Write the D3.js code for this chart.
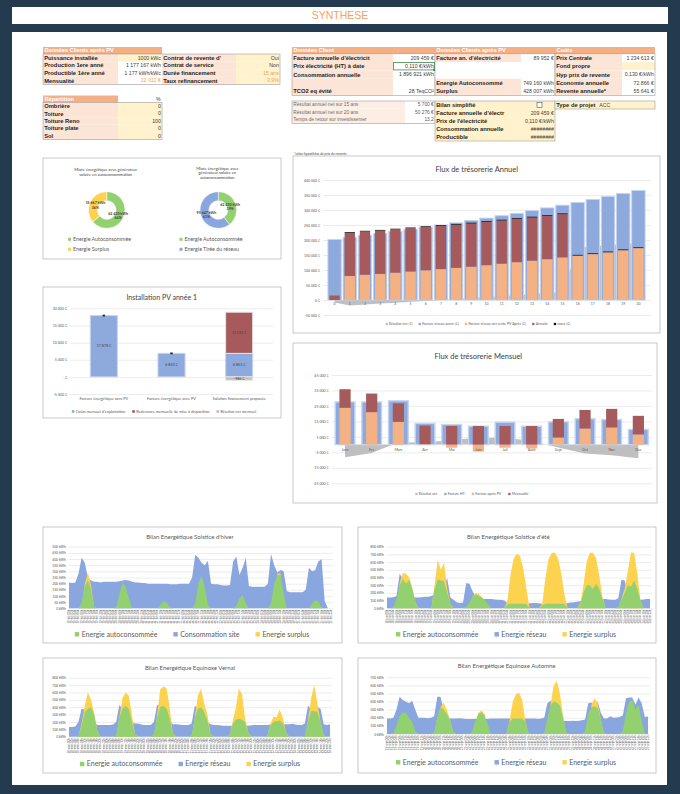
<!DOCTYPE html>
<html>
<head>
<meta charset="utf-8">
<script src="https://cdn.jsdelivr.net/npm/d3@7"></script>
<style>
  body { margin: 0; background: #243a4e; }
  svg { display: block; }
</style>
</head>
<body>
<svg id="page"></svg>
<script>
// ---------- data : tables ----------
var clientPvLabels = ["Puissance installée", "Production 1ere anné", "Productible 1ère anné", "Mensualité"];
var clientPvValues = ["1000 kWc", "1 177 167 kWh", "1 177 kWh/kWc", "12 011 €"];
var contratLabels = ["Contrat de revente d'", "Contrat de service", "Durée financement", "Taux refinancement"];
var contratValues = ["Oui", "Non", "15 ans", "3,9%"];
var repartitionLabels = ["Ombrière", "Toiture", "Toiture Reno", "Toiture plate", "Sol"];
var repartitionValues = ["0", "0", "100", "0", "0"];
var clientLabels = ["Facture annuelle d'électricit", "Prix électricité (HT) à date", "Consommation annuelle", "", "TCO2 eq évité"];
var clientValues = ["209 459 €", "0,110 €/kWh", "1 896 921 kWh", "", "28 TeqCO²"];
var apresPvLabels = ["Facture an. d'électricité", "", "", "Energie Autoconsommé", "Surplus"];
var apresPvValues = ["89 952 €", "", "", "749 160 kWh", "428 007 kWh"];
var coutsLabels = ["Prix Centrale", "Fond propre", "Hyp prix de revente", "Economie annuelle", "Revente annuelle*"];
var coutsValues = ["1 234 613 €", "", "0,130 €/kWh", "72 866 €", "55 641 €"];
var resultatLabels = ["Résultat annuel net sur 15 ans", "Résultat annuel net sur 20 ans", "Temps de retour sur investissemer"];
var resultatValues = ["5 700 €", "50 276 €", "13,2"];
var bilanLabels = ["Bilan simplifié", "Facture annuelle d'électr", "Prix de l'électricité", "Consommation annuelle", "Productible"];
var bilanValues = ["", "209 459 €", "0,110 €/kWh", "########", "########"];
var typeProjet = ["Type de projet", "ACC"];

// ---------- data : donuts ----------
var mixteSurplusLabels = ["Energie Autoconsommée", "Energie Surplus"];
var mixteSurplusValues = [62430, 35667];
var mixteReseauLabels = ["Energie Autoconsommée", "Energie Tirée du réseau"];
var mixteReseauValues = [62430, 95647];

// ---------- data : installation PV année 1 ----------
var pvCategories = ["Facture énergétique sans PV", "Facture énergétique avec PV", "Solution financement proposée"];
var coutsMensuels = [17878, 6853, 6853];
var redevanceMensuelle = [0, 0, 12011];
var resultatNetMensuel = [null, null, -986];
var factureMarqueur = [17878, 6853, null];

// ---------- data : flux annuel ----------
var annees = ["0", "1", "2", "3", "4", "5", "6", "7", "8", "9", "10", "11", "12", "13", "14", "15", "16", "17", "18", "19", "20"];
var factureAvant = [202000, 209000, 216000, 222000, 229000, 236000, 243000, 250000, 257000, 265000, 273000, 281000, 289000, 298000, 307000, 316000, 325000, 335000, 345000, 355000, 365000];
var factureApres = [0, 80000, 84000, 87000, 91000, 95000, 99000, 103000, 107000, 111000, 116000, 121000, 126000, 131000, 136000, 142000, 148000, 153000, 159000, 166000, 173000];
var annuite = [15000, 144132, 144132, 144132, 144132, 144132, 144132, 144132, 144132, 144132, 144132, 144132, 144132, 144132, 144132, 144132, 0, 0, 0, 0, 0];
var taxes = [0, 2500, 2500, 2500, 2500, 2500, 2500, 2500, 2500, 2500, 2500, 2500, 2500, 2500, 2500, 2500, 2500, 2500, 2500, 2500, 2500];
var resultatNetAnnuel = [-8000, -18000, -15000, -12000, -9000, -6000, -3000, 0, 3000, 7000, 10000, 13000, 16000, 20000, 24000, 27000, 174000, 179000, 183000, 186000, 190000];

// ---------- data : flux mensuel ----------
var mois = ["Janv", "Fev", "Mars", "Avr", "Mai", "Juin", "Juil", "Août", "Sept", "Oct", "Nov", "Dec"];
var factureHT = [27600, 27600, 28300, 13700, 13000, 11900, 14500, 11900, 14700, 16700, 16200, 9800];
var factureApresPV = [23800, 21000, 14700, 300, -2000, -4500, -2000, -2500, 4600, 10400, 11100, 6600];
var mensualite = [12011, 12011, 12011, 12011, 12011, 12011, 12011, 12011, 12011, 12011, 12011, 12011];
var resultatNetMois = [-8200, -5400, 1600, 1400, 3000, 4400, 4500, 2400, -1900, -5700, -6900, -8800];

// ---------- data : bilans énergétiques (pas de 2 h, 7 jours) ----------
var heures = ["00h", "02h", "04h", "06h", "08h", "10h", "12h", "14h", "16h", "18h", "20h", "22h"];
var joursHiver = ["19-déc", "20-déc", "21-déc", "22-déc", "23-déc", "24-déc", "25-déc"];
var joursEte = ["18-juin", "19-juin", "20-juin", "21-juin", "22-juin", "23-juin", "24-juin"];
var joursVernal = ["18-mars", "19-mars", "20-mars", "21-mars", "22-mars", "23-mars", "24-mars"];
var joursAutomne = ["19-sept", "20-sept", "21-sept", "22-sept", "23-sept", "24-sept", "25-sept"];

var hiverConso = [210,205,210,280,410,370,245,225,215,215,210,215, 215,215,215,215,220,225,230,225,215,210,210,205,
  205,200,200,200,200,200,200,200,195,195,195,200, 200,200,200,250,435,410,370,350,385,200,195,195,
  190,185,185,190,380,420,270,330,410,180,175,175, 175,175,175,200,440,350,290,310,300,140,130,130,
  130,130,130,150,330,300,310,380,400,60,0,0];
var hiverAuto = [0,0,0,0,40,180,230,150,10,0,0,0, 0,0,0,10,120,210,170,80,0,0,0,0,
  0,0,0,0,0,30,60,45,10,0,0,0, 0,0,0,0,40,200,265,170,30,0,0,0,
  0,0,0,0,0,20,80,110,40,0,0,0, 0,0,0,0,40,200,270,270,120,0,0,0,
  0,0,0,0,0,40,65,55,10,0,0,0];
var hiverSurplus = [0,0,0,0,0,200,290,180,0,0,0,0, 0,0,0,0,0,0,0,0,0,0,0,0,
  0,0,0,0,0,0,0,0,0,0,0,0, 0,0,0,0,0,0,0,0,0,0,0,0,
  0,0,0,0,0,0,0,0,0,0,0,0, 0,0,0,0,0,0,280,285,0,0,0,0,
  0,0,0,0,0,0,0,0,0,0,0,0];

var eteReseau = [140,140,145,160,450,380,300,200,150,140,140,145, 150,150,160,180,200,220,300,390,140,110,80,70,
  75,330,320,220,150,130,120,120,120,120,115,110, 110,100,70,60,60,60,60,60,60,65,70,70,
  65,60,60,60,60,60,60,60,60,70,75,80, 85,90,120,200,250,200,150,120,120,120,115,110,
  110,130,370,360,200,100,90,100,110,115,120,120];
var eteAuto = [0,0,20,120,300,380,320,370,250,80,0,0, 0,0,10,250,370,360,350,200,60,0,0,0,
  0,20,80,150,180,160,140,100,50,0,0,0, 0,0,50,60,60,60,60,60,55,0,0,0,
  0,40,60,60,60,60,60,60,60,0,0,0, 0,40,200,300,300,250,320,250,120,0,0,0,
  0,20,120,200,300,280,360,250,100,0,0,0];
var eteSurplus = [0,0,0,0,330,460,450,400,260,80,0,0, 0,0,0,300,630,500,590,250,60,0,0,0,
  0,0,0,150,200,190,140,0,0,0,0,0, 0,0,100,450,650,710,680,520,250,0,0,0,
  0,60,400,640,720,720,650,450,180,0,0,0, 0,60,300,600,720,720,650,420,150,0,0,0,
  0,0,130,250,480,720,720,450,100,0,0,0];

var vernalReseau = [130,130,140,200,380,370,330,300,200,160,160,160, 160,160,165,200,430,380,330,300,200,180,180,165,
  160,160,160,200,430,420,350,330,220,170,170,165, 160,160,160,180,420,380,300,250,200,170,160,160,
  155,150,150,150,150,150,150,150,150,150,155,160, 160,160,160,160,165,165,170,170,170,170,170,175,
  165,160,160,180,420,380,330,400,380,170,160,170];
var vernalAuto = [0,0,0,10,150,330,380,400,300,80,0,0, 0,0,0,20,250,380,420,380,200,30,0,0,
  0,0,0,40,250,400,420,380,250,50,0,0, 0,0,0,30,250,380,400,330,220,40,0,0,
  0,0,0,30,160,230,240,230,200,60,0,0, 0,0,0,10,150,200,210,220,180,60,0,0,
  0,0,0,20,200,350,350,330,200,20,0,0];
var vernalSurplus = [0,0,0,0,180,420,600,500,320,80,0,0, 0,0,0,0,260,520,600,560,300,30,0,0,
  0,0,0,0,280,640,680,660,400,50,0,0, 0,0,0,0,260,560,650,450,300,40,0,0,
  0,0,0,0,200,380,650,580,250,60,0,0, 0,0,0,0,170,270,260,370,260,60,0,0,
  0,0,0,0,220,520,700,450,200,20,0,0];

var automneReseau = [190,190,200,300,460,420,400,380,410,300,200,200, 200,195,200,220,460,460,300,200,190,190,190,195,
  190,185,185,185,185,185,185,185,185,190,190,190, 190,190,190,190,190,190,190,190,190,190,190,190,
  185,190,200,380,410,350,300,250,160,160,160,165, 160,165,170,180,380,390,340,400,260,190,190,220,
  200,205,210,230,440,450,450,360,450,380,210,215];
var automneAuto = [0,0,10,100,220,270,260,200,150,30,0,0, 0,0,0,20,200,330,300,250,180,30,0,0,
  0,0,0,20,150,240,270,230,120,10,0,0, 0,0,0,150,190,190,190,190,150,20,0,0,
  0,0,10,200,350,400,390,350,200,30,0,0, 0,0,0,30,250,330,340,320,180,20,0,0,
  0,0,0,40,250,400,420,300,360,150,10,0];
var automneSurplus = [0,0,0,0,0,0,0,0,0,0,0,0, 0,0,0,0,200,330,390,300,180,30,0,0,
  0,0,0,0,0,260,290,250,0,0,0,0, 0,0,0,170,400,490,510,420,160,0,0,0,
  0,0,0,0,360,600,650,500,220,0,0,0, 0,0,0,0,0,360,440,380,180,0,0,0,
  0,0,0,0,0,0,0,0,0,0,0,0];

// ---------- palette ----------
var NAVY = "#243a4e", PEACH = "#fce4d6", YELLOW = "#fff2cc", ORANGE_HEAD = "#f4b084", ORANGE_TXT = "#f0a060";
var BLUE = "#8eaadc", BLUE_GLOW = "#c6d4ef", ORANGE = "#f4b183", RED = "#a65a5c", GREY = "#bfbfbf";
var E_BLUE = "#8aa6de", E_GREEN = "#92d070", E_YELLOW = "#fdd24e";
var TABLE_FONT = "'Liberation Sans', Arial, sans-serif";

var loc = d3.formatLocale({decimal: ",", thousands: "\u00a0", grouping: [3], currency: ["", " €"], minus: "-"});
var fmtInt = loc.format(",.0f");
function euro(d) { return fmtInt(d) + " €"; }

var page = d3.select("#page").attr("width", 680).attr("height", 794)
             .style("font-family", "Lato, 'Liberation Sans', sans-serif");

// frame and header
page.append("rect").attr("width", 680).attr("height", 794).attr("fill", NAVY);
page.append("rect").attr("x", 12).attr("y", 7).attr("width", 656).attr("height", 17).attr("fill", "#fff");
page.append("text").attr("x", 340).attr("y", 15.8).attr("dy", "0.35em").attr("text-anchor", "middle")
    .attr("font-size", 10.5).attr("fill", "#f6a15f").attr("font-family", TABLE_FONT).text("SYNTHESE");
page.append("rect").attr("x", 12).attr("y", 32).attr("width", 655).attr("height", 753).attr("fill", "#fff");

// ---------- table helpers ----------
var clipCount = 0;
function headerCell(x, y, w, h, txt) {
  page.append("rect").attr("x", x).attr("y", y).attr("width", w).attr("height", h).attr("fill", ORANGE_HEAD);
  page.append("text").attr("x", x + 1.5).attr("y", y + h / 2).attr("dy", "0.35em")
      .attr("font-size", 5.6).attr("font-weight", "bold").attr("fill", "#fff")
      .attr("font-family", TABLE_FONT).text(txt);
}
function table(x, y, rowH, n, cols) {
  var cx = x;
  cols.forEach(function(c) {
    var id = "clip" + (clipCount++);
    page.append("clipPath").attr("id", id).append("rect")
        .attr("x", cx).attr("y", y).attr("width", c.w - 0.5).attr("height", n * rowH);
    for (var i = 0; i < n; i++) {
      var fill = typeof c.fill === "function" ? c.fill(i) : c.fill;
      page.append("rect").attr("x", cx).attr("y", y + i * rowH).attr("width", c.w).attr("height", rowH).attr("fill", fill);
      var t = c.text[i];
      if (t === "" || t == null) continue;
      var anchor = c.anchor || "start";
      page.append("text")
          .attr("clip-path", "url(#" + id + ")")
          .attr("x", anchor === "end" ? cx + c.w - 1.2 : cx + 1.2)
          .attr("y", y + i * rowH + rowH / 2).attr("dy", "0.35em")
          .attr("text-anchor", anchor)
          .attr("font-size", c.size || (c.bold ? 5.8 : 5.2))
          .attr("font-weight", c.bold ? "bold" : null)
          .attr("font-family", TABLE_FONT)
          .attr("fill", c.color ? (typeof c.color === "function" ? c.color(i) : c.color) : "#1f1f1f")
          .text(t);
    }
    cx += c.w;
  });
  page.append("rect").attr("x", x).attr("y", y).attr("width", cx - x).attr("height", n * rowH)
      .attr("fill", "none").attr("stroke", "#8c8c8c").attr("stroke-width", 0.5);
}

// left tables
headerCell(43, 47, 119, 7, "Données Clients après PV");
table(43, 54, 7.6, 4, [
  {w: 75, fill: PEACH, text: clientPvLabels, bold: true},
  {w: 44, fill: function(i) { return i === 0 ? YELLOW : "#fff"; }, text: clientPvValues, anchor: "end",
   color: function(i) { return i === 3 ? ORANGE_TXT : "#404040"; }},
  {w: 74, fill: PEACH, text: contratLabels, bold: true},
  {w: 44, fill: YELLOW, text: contratValues, anchor: "end",
   color: function(i) { return i >= 2 ? ORANGE_TXT : "#404040"; }}
]);
headerCell(43, 95.5, 75, 7, "Répartition");
page.append("text").attr("x", 160.5).attr("y", 99).attr("dy", "0.35em").attr("text-anchor", "end")
    .attr("font-size", 5.2).attr("font-family", TABLE_FONT).attr("fill", "#404040").text("%");
table(43, 102.5, 7.4, 5, [
  {w: 75, fill: PEACH, text: repartitionLabels, bold: true},
  {w: 44, fill: YELLOW, text: repartitionValues, anchor: "end", color: "#404040"}
]);

// middle / right tables
headerCell(292, 47, 143, 6.8, "Données Client");
headerCell(435, 47, 120, 6.8, "Données Clients après PV");
headerCell(555, 47, 100, 6.8, "Coûts");
table(292, 53.8, 8.3, 5, [
  {w: 101, fill: PEACH, text: clientLabels, bold: true},
  {w: 42, fill: "#fff", text: clientValues, anchor: "end", color: "#404040"}
]);
page.append("rect").attr("x", 393.4).attr("y", 62.4).attr("width", 41.2).attr("height", 7.5)
    .attr("fill", "none").attr("stroke", "#3d8a4a").attr("stroke-width", 0.8);
page.append("rect").attr("x", 433.2).attr("y", 68.6).attr("width", 2.4).attr("height", 2.4).attr("fill", "#3d8a4a");
table(435, 53.8, 8.3, 5, [
  {w: 86, fill: function(i) { return i === 1 || i === 2 ? "#fff" : PEACH; }, text: apresPvLabels, bold: true},
  {w: 34, fill: "#fff", text: apresPvValues, anchor: "end", color: "#404040"}
]);
table(555, 53.8, 8.3, 5, [
  {w: 67, fill: PEACH, text: coutsLabels, bold: true},
  {w: 33, fill: function(i) { return i === 1 ? YELLOW : "#fff"; }, text: coutsValues, anchor: "end", color: "#404040"}
]);
table(292, 101, 7.5, 3, [
  {w: 113, fill: "#fdeee4", text: resultatLabels, size: 4.8, color: "#6b6b6b"},
  {w: 30, fill: "#fff", text: resultatValues, anchor: "end", size: 4.8, color: "#595959"}
]);
table(435, 101, 8, 5, [
  {w: 88, fill: YELLOW, text: bilanLabels, bold: true},
  {w: 32, fill: YELLOW, text: bilanValues, anchor: "end", color: "#404040"}
]);
page.append("rect").attr("x", 537).attr("y", 102.3).attr("width", 5).attr("height", 5)
    .attr("fill", "#fff").attr("stroke", "#333").attr("stroke-width", 0.5);
table(555, 101, 8, 1, [
  {w: 43, fill: YELLOW, text: [typeProjet[0]], bold: true},
  {w: 57, fill: YELLOW, text: [typeProjet[1]], color: "#404040"}
]);
page.append("text").attr("x", 294).attr("y", 154.5).attr("font-size", 3.6).attr("font-style", "italic")
    .attr("fill", "#404040").text("*selon hypothèse de prix de revente");

// ---------- chart helpers ----------
function panel(x, y, w, h) {
  page.append("rect").attr("x", x).attr("y", y).attr("width", w).attr("height", h)
      .attr("fill", "#fff").attr("stroke", "#a6a6a6").attr("stroke-width", 0.6);
}
function title(x, y, txt, size, color) {
  page.append("text").attr("x", x).attr("y", y).attr("dy", "0.35em").attr("text-anchor", "middle")
      .attr("font-size", size).attr("fill", color || "#404040").text(txt);
}
function yAxis(scale, x, x1, ticks, fmt, size) {
  var g = page.append("g").attr("transform", "translate(" + x + ",0)")
              .call(d3.axisLeft(scale).tickValues(ticks).tickSize(-(x1 - x)).tickPadding(3).tickFormat(fmt));
  g.attr("font-family", null).attr("font-size", null);
  g.select(".domain").remove();
  g.selectAll(".tick line").attr("stroke", "#d9d9d9").attr("stroke-width", 0.5);
  g.selectAll(".tick text").attr("font-size", size).attr("fill", "#595959");
  return g;
}
function legend(items, cx, y, size, box, gap) {
  var g = page.append("g");
  var xx = 0;
  items.forEach(function(it) {
    g.append("rect").attr("x", xx).attr("y", y - box / 2).attr("width", box).attr("height", box).attr("fill", it.color);
    var t = g.append("text").attr("x", xx + box + size * 0.35).attr("y", y).attr("dy", "0.35em")
             .attr("font-size", size).attr("fill", "#595959").text(it.label);
    xx += box + size * 0.35 + t.node().getComputedTextLength() + gap;
  });
  xx -= gap;
  g.attr("transform", "translate(" + (cx - xx / 2) + ",0)");
}

// ---------- donuts ----------
panel(43, 158, 238, 101);
function donut(cx, cy, values, labels, colors, titleLines, titleY, legX) {
  var total = d3.sum(values);
  var arcs = d3.pie().sort(null)(values);
  var arc = d3.arc().innerRadius(9.3).outerRadius(18.3);
  var lab = d3.arc().innerRadius(12.5).outerRadius(12.5);
  var g = page.append("g").attr("transform", "translate(" + cx + "," + cy + ")");
  g.selectAll("path").data(arcs).join("path").attr("d", arc)
   .attr("fill", function(d, i) { return colors[i]; }).attr("stroke", "#fff").attr("stroke-width", 0.5);
  arcs.forEach(function(a, i) {
    var c = lab.centroid(a);
    var t = g.append("text").attr("x", c[0]).attr("y", c[1]).attr("text-anchor", "middle")
             .attr("font-size", 3.6).attr("font-weight", "bold").attr("fill", "#404040");
    t.append("tspan").attr("x", c[0]).attr("dy", "-0.1em").text(fmtInt(values[i]) + " kWh");
    t.append("tspan").attr("x", c[0]).attr("dy", "1.15em").text(Math.round(values[i] / total * 100) + "%");
  });
  titleLines.forEach(function(l, i) { title(cx - 1, titleY + i * 4.7, l, 4.1, "#404040"); });
  labels.forEach(function(l, i) {
    page.append("rect").attr("x", legX).attr("y", 237.8 + i * 10).attr("width", 3).attr("height", 3).attr("fill", colors[i]);
    page.append("text").attr("x", legX + 5).attr("y", 239.3 + i * 10).attr("dy", "0.35em")
        .attr("font-size", 5.3).attr("fill", "#595959").text(l);
  });
}
donut(106.7, 210, mixteSurplusValues, mixteSurplusLabels, [E_GREEN, E_YELLOW],
      ["Mixte énergétique avec générateur", "solaire en autoconsommation"], 170, 68);
donut(218.3, 210, mixteReseauValues, mixteReseauLabels, [E_GREEN, E_BLUE],
      ["Mixte énergétique avec", "générateur solaire en", "autoconsommation"], 168.3, 179.5);

// ---------- Installation PV année 1 ----------
panel(43, 287, 238, 131);
title(161.7, 297.7, "Installation PV année 1", 7);
var xI = d3.scaleBand().domain(pvCategories).range([70, 273]);
var yI = d3.scaleLinear().domain([-5000, 20000]).range([394, 308.3]);
yAxis(yI, 70, 273, d3.range(-5000, 20001, 5000), function(d) { return d === 0 ? "- €" : euro(d); }, 3.6);
var bwI = xI.bandwidth() * 0.4;
pvCategories.forEach(function(c, i) {
  var x0 = xI(c) + xI.bandwidth() / 2 - bwI / 2;
  var segs = [[0, coutsMensuels[i], BLUE], [coutsMensuels[i], coutsMensuels[i] + redevanceMensuelle[i], RED]];
  if (resultatNetMensuel[i] != null) segs.push([resultatNetMensuel[i], 0, GREY]);
  segs.forEach(function(s) {
    if (s[1] - s[0] === 0) return;
    page.append("rect").attr("x", x0).attr("width", bwI)
        .attr("y", yI(s[1])).attr("height", yI(s[0]) - yI(s[1]))
        .attr("fill", s[2]).attr("stroke", s[2] === BLUE ? BLUE_GLOW : "#e6e6e6").attr("stroke-width", 1);
    var v = s[2] === GREY ? s[0] : s[1] - s[0];
    page.append("text").attr("x", x0 + bwI / 2).attr("y", yI((s[0] + s[1]) / 2)).attr("dy", "0.35em")
        .attr("text-anchor", "middle").attr("font-size", 3.6).attr("fill", "#404040").text(euro(v));
  });
  if (factureMarqueur[i] != null) {
    page.append("rect").attr("x", x0 + bwI / 2 - 1.2).attr("y", yI(factureMarqueur[i]) - 0.9)
        .attr("width", 2.4).attr("height", 1.8).attr("fill", "#222");
  }
  page.append("text").attr("x", xI(c) + xI.bandwidth() / 2).attr("y", 398.3).attr("dy", "0.35em")
      .attr("text-anchor", "middle").attr("font-size", 3.9).attr("fill", "#595959").text(c);
});
legend([{label: "Coûts mensuel d'exploitation", color: BLUE},
        {label: "Redevance mensuelle de mise à disposition", color: RED},
        {label: "Résultat net mensuel", color: GREY}], 164, 411.5, 3.9, 2.6, 7);

// ---------- Flux de trésorerie Annuel ----------
panel(293, 156, 367, 177);
title(476.7, 169.5, "Flux de trésorerie Annuel", 7.5);
var xA = d3.scaleBand().domain(annees).range([327, 646]);
var yA = d3.scaleLinear().domain([-50000, 400000]).range([315, 180]);
yAxis(yA, 323, 651, d3.range(-50000, 400001, 50000), euro, 3.5);
var bwA = xA.bandwidth();
function cxA(a) { return xA(a) + bwA / 2; }
page.append("path").datum(resultatNetAnnuel)
    .attr("d", d3.area().x(function(d, i) { return cxA(annees[i]); }).y0(yA(0)).y1(function(d) { return yA(d); }))
    .attr("fill", GREY);
page.append("g").selectAll("rect").data(factureAvant).join("rect")
    .attr("x", function(d, i) { return cxA(annees[i]) - bwA * 0.44; }).attr("width", bwA * 0.88)
    .attr("y", function(d) { return yA(d); }).attr("height", function(d) { return yA(0) - yA(d); })
    .attr("fill", BLUE).attr("stroke", BLUE_GLOW).attr("stroke-width", 0.9);
var rowsA = annees.map(function(a, i) { return {a: a, apres: factureApres[i], annuite: annuite[i], taxes: taxes[i]}; });
var stackA = d3.stack().keys(["apres", "annuite", "taxes"]).offset(d3.stackOffsetDiverging)(rowsA);
var colA = {apres: ORANGE, annuite: RED, taxes: "#111"};
stackA.forEach(function(layer) {
  page.append("g").selectAll("rect").data(layer).join("rect")
      .attr("x", function(d) { return cxA(d.data.a) - bwA * 0.34; }).attr("width", bwA * 0.68)
      .attr("y", function(d) { return yA(d[1]); }).attr("height", function(d) { return yA(d[0]) - yA(d[1]); })
      .attr("fill", colA[layer.key]);
});
page.append("g").selectAll("text").data(annees).join("text")
    .attr("x", cxA).attr("y", 304).attr("dy", "0.35em").attr("text-anchor", "middle")
    .attr("font-size", 3.4).attr("fill", "#595959").text(function(d) { return d; });
legend([{label: "Résultat net [€]", color: GREY}, {label: "Facture réseau avant [€]", color: BLUE},
        {label: "Facture réseau net vente PV Après [€]", color: ORANGE}, {label: "Annuité", color: RED},
        {label: "taxes [€]", color: "#111"}], 478, 324, 3.5, 2.3, 6);

// ---------- Flux de trésorerie Mensuel ----------
panel(293, 343, 364, 160);
title(478.3, 356, "Flux de trésorerie Mensuel", 7.5);
var xM = d3.scaleBand().domain(mois).range([331.7, 651.7]);
var yM = d3.scaleLinear().domain([-25000, 45000]).range([483.3, 375]);
yAxis(yM, 331.7, 651.7, d3.range(-25000, 45001, 10000), euro, 3.6);
var bwM = xM.bandwidth();
function cxM(m) { return xM(m) + bwM / 2; }
page.append("path").datum(resultatNetMois)
    .attr("d", d3.area().x(function(d, i) { return cxM(mois[i]); }).y0(yM(0)).y1(function(d) { return yM(d); }))
    .attr("fill", GREY);
page.append("g").selectAll("rect").data(factureHT).join("rect")
    .attr("x", function(d, i) { return cxM(mois[i]) - bwM * 0.37; }).attr("width", bwM * 0.74)
    .attr("y", function(d) { return yM(d); }).attr("height", function(d) { return yM(0) - yM(d); })
    .attr("fill", BLUE).attr("stroke", BLUE_GLOW).attr("stroke-width", 1.4);
var rowsM = mois.map(function(m, i) { return {m: m, apres: factureApresPV[i], mens: mensualite[i]}; });
var stackM = d3.stack().keys(["apres", "mens"]).offset(d3.stackOffsetDiverging)(rowsM);
var colM = {apres: ORANGE, mens: RED};
stackM.forEach(function(layer) {
  page.append("g").selectAll("rect").data(layer).join("rect")
      .attr("x", function(d) { return cxM(d.data.m) - bwM * 0.21; }).attr("width", bwM * 0.42)
      .attr("y", function(d) { return yM(d[1]); }).attr("height", function(d) { return yM(d[0]) - yM(d[1]); })
      .attr("fill", colM[layer.key]);
});
page.append("g").selectAll("text").data(mois).join("text")
    .attr("x", cxM).attr("y", 450).attr("dy", "0.35em").attr("text-anchor", "middle")
    .attr("font-size", 3.6).attr("fill", "#595959").text(function(d) { return d; });
legend([{label: "Résultat net", color: GREY}, {label: "Facture HT", color: BLUE},
        {label: "Facture après PV", color: ORANGE}, {label: "Mensualité", color: RED}], 472, 494, 3.5, 2.3, 7);

// ---------- Bilans énergétiques ----------
function energyChart(c) {
  panel(c.box[0], c.box[1], c.box[2], c.box[3]);
  title(c.titleX, c.titleY, c.title, 6, "#595959");
  var labels = [];
  c.days.forEach(function(d) { heures.forEach(function(h) { labels.push(d + " " + h); }); });
  var x = d3.scalePoint().domain(labels).range(c.xr);
  var y = d3.scaleLinear().domain([0, c.max]).range(c.yr);
  yAxis(y, c.xr[0], c.xr[1] + 2, d3.range(0, c.max + 1, c.step), function(d) { return d + " kWh"; }, 3.4);
  var area = d3.area().x(function(d, i) { return x(labels[i]); }).y0(y(0)).y1(function(d) { return y(d); });
  [[c.blue, E_BLUE], [c.yellow, E_YELLOW], [c.green, E_GREEN]].forEach(function(s) {
    page.append("path").datum(s[0]).attr("d", area).attr("fill", s[1]);
  });
  page.append("g").selectAll("text").data(labels).join("text")
      .attr("transform", function(d) { return "translate(" + (x(d) + 1) + "," + (c.yr[0] + 1.5) + ") rotate(-90)"; })
      .attr("text-anchor", "end").attr("font-size", 2.7).attr("fill", "#595959").text(function(d) { return d; });
  legend([{label: "Energie autoconsommée", color: E_GREEN}, {label: c.blueName, color: E_BLUE},
          {label: "Energie surplus", color: E_YELLOW}], c.legX, c.legY, 7, 4.4, 16);
}
energyChart({box: [43, 527, 299, 116], title: "Bilan Energétique Solstice d'hiver", titleX: 190, titleY: 536.7,
  xr: [69, 331], yr: [608.3, 546.7], max: 500, step: 50, days: joursHiver,
  blue: hiverConso, green: hiverAuto, yellow: hiverSurplus, blueName: "Consommation site", legX: 192, legY: 634.3});
energyChart({box: [358, 527, 298, 116], title: "Bilan Energétique Solstice d'été", titleX: 508.3, titleY: 536.7,
  xr: [387, 650], yr: [608.3, 546.7], max: 800, step: 100, days: joursEte,
  blue: eteReseau, green: eteAuto, yellow: eteSurplus, blueName: "Energie réseau", legX: 506, legY: 634.3});
energyChart({box: [43, 658, 299, 115], title: "Bilan Energétique Equinoxe Vernal", titleX: 190, titleY: 667.7,
  xr: [69, 330], yr: [736.7, 677.7], max: 800, step: 100, days: joursVernal,
  blue: vernalReseau, green: vernalAuto, yellow: vernalSurplus, blueName: "Energie réseau", legX: 190, legY: 764});
energyChart({box: [358, 658, 298, 115], title: "Bilan Energétique Equinoxe Automne", titleX: 506.7, titleY: 665.7,
  xr: [387, 648], yr: [734, 677.3], max: 700, step: 100, days: joursAutomne,
  blue: automneReseau, green: automneAuto, yellow: automneSurplus, blueName: "Energie réseau", legX: 506, legY: 762.3});
</script>
</body>
</html>
